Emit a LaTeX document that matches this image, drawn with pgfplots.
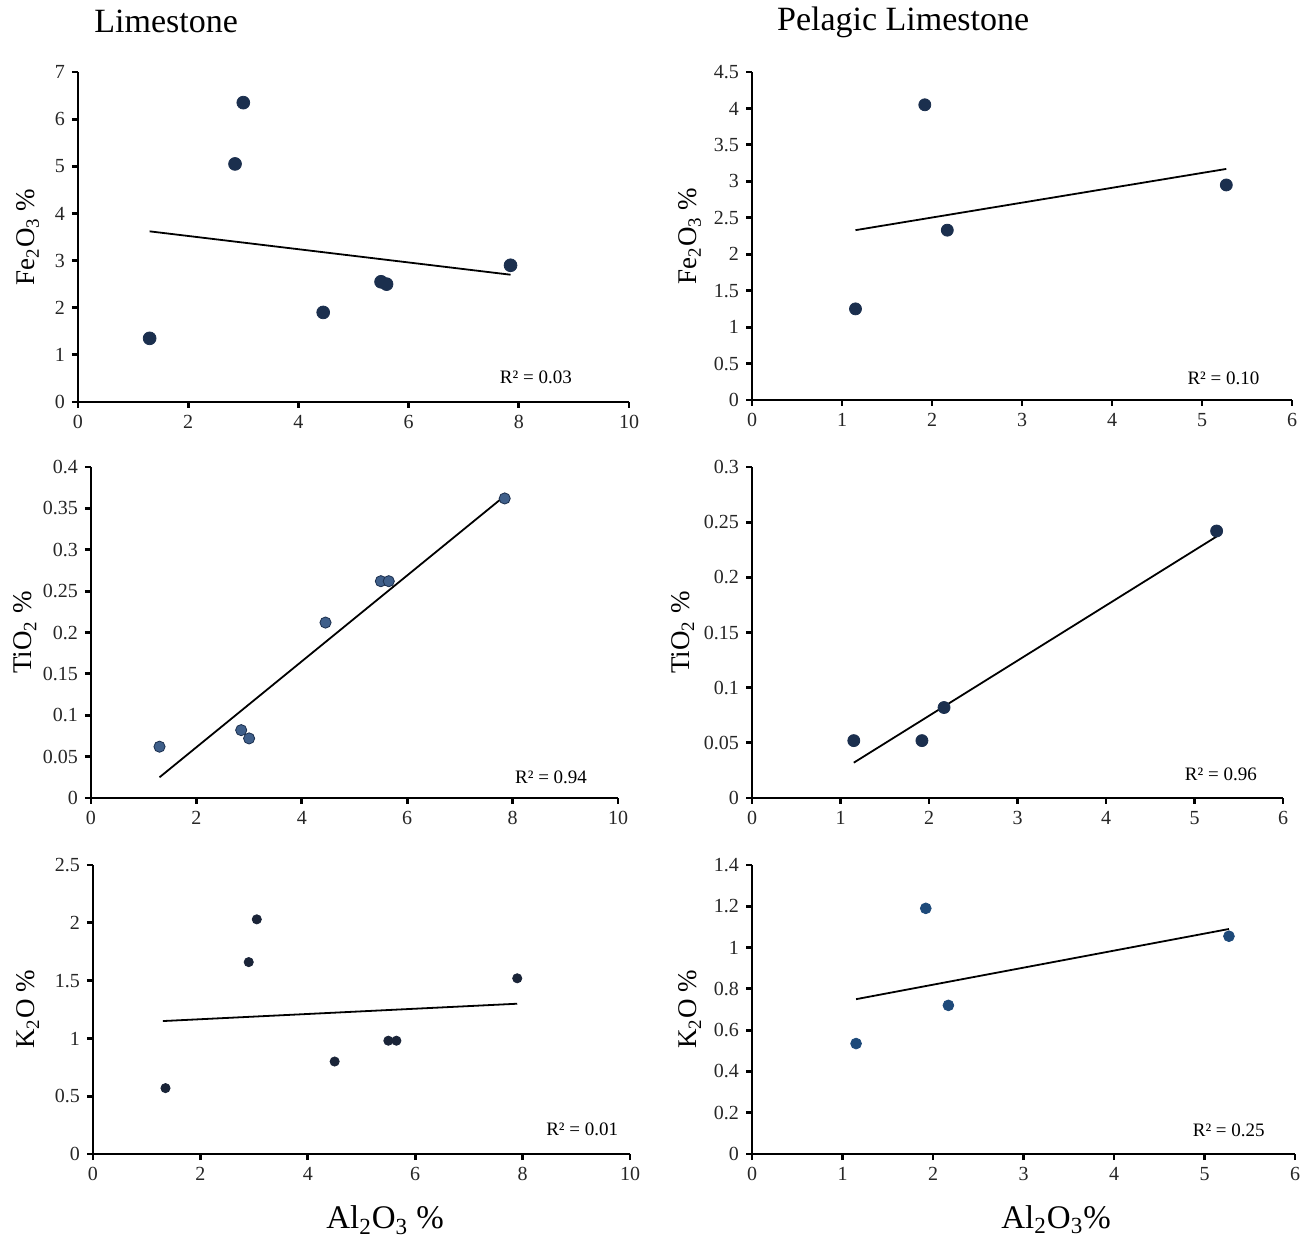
\documentclass[border=0pt]{standalone}
\usepackage{pgfplots}
\pgfplotsset{compat=1.18}
\usepackage{fontspec}
\setmainfont{Liberation Serif}

\definecolor{navy}{HTML}{1B2F4E}
\definecolor{slate}{HTML}{3F5F8A}
\definecolor{deep}{HTML}{1A2438}
\definecolor{ocean}{HTML}{1E4A7A}

\pgfplotsset{
  panel/.style={
    scale only axis,
    axis x line=bottom, axis y line=left,
    axis line style={-, line width=1.1pt},
    tick align=outside,
    major tick length=3pt,
    every tick/.style={black, line width=1.4pt},
    tick label style={font=\fontsize{10}{11}\selectfont, text=black!85},
    /pgf/number format/assume math mode=true,
    yticklabel style={/pgf/number format/fixed, /pgf/number format/precision=2},
    xmin=0, ymin=0,
    clip=false,
    ylabel style={anchor=center, font=\fontsize{13.5}{14}\selectfont},
  },
  fit/.style={black, line width=0.9pt, no marks},
}
\newcommand{\rsq}[3]{\node[font=\fontsize{9.5}{10}\selectfont, anchor=center] at (axis description cs:#1,#2) {R² = #3};}
\newcommand{\heading}[3]{\node[font=\fontsize{17}{18}\selectfont, anchor=center] at (axis description cs:#1,#2) {#3};}

\begin{document}
\begin{tikzpicture}
\useasboundingbox (0pt,0pt) rectangle (655.5pt,618.5pt);

% Limestone, Fe2O3
\begin{axis}[panel, at={(39pt,417.5pt)}, anchor=south west,
  width=275.5pt, height=165pt,
  xmax=10, ymax=7,
  xtick={0,2,4,6,8,10}, ytick={0,1,2,3,4,5,6,7},
  ylabel={Fe\textsubscript{2}O\textsubscript{3} \%},
  ylabel style={at={(axis description cs:-0.091,0.5)}},
]
\addplot[only marks, mark=*, mark size=3.2pt, draw=navy, fill=navy] coordinates {
  (1.3,1.35) (2.85,5.05) (3.0,6.35) (4.45,1.9) (5.5,2.55) (5.6,2.5) (7.85,2.9)
};
\addplot[fit] coordinates {(1.3,3.62) (7.85,2.7)};
\rsq{0.831}{0.076}{0.03}
\heading{0.16}{1.152}{Limestone}
\end{axis}

% Pelagic Limestone, Fe2O3
\begin{axis}[panel, at={(376pt,418.5pt)}, anchor=south west,
  width=270pt, height=164pt,
  xmax=6, ymax=4.5,
  xtick={0,1,2,3,4,5,6}, ytick={0,0.5,1,1.5,2,2.5,3,3.5,4,4.5},
  ylabel={Fe\textsubscript{2}O\textsubscript{3} \%},
  ylabel style={at={(axis description cs:-0.115,0.5)}},
]
\addplot[only marks, mark=*, mark size=3pt, draw=navy, fill=navy] coordinates {
  (1.15,1.25) (1.92,4.05) (2.17,2.33) (5.27,2.95)
};
\addplot[fit] coordinates {(1.15,2.33) (5.27,3.17)};
\rsq{0.873}{0.067}{0.10}
\heading{0.28}{1.152}{Pelagic Limestone}
\end{axis}

% Limestone, TiO2
\begin{axis}[panel, at={(45.5pt,219.5pt)}, anchor=south west,
  width=263.5pt, height=165.5pt,
  xmax=10, ymax=0.4,
  xtick={0,2,4,6,8,10}, ytick={0,0.05,0.1,0.15,0.2,0.25,0.3,0.35,0.4},
  ylabel={TiO\textsubscript{2} \%},
  ylabel style={at={(axis description cs:-0.125,0.5)}},
]
\addplot[only marks, mark=*, mark size=2.8pt, draw=navy, fill=slate] coordinates {
  (1.3,0.062) (2.85,0.082) (3.0,0.072) (4.45,0.212) (5.5,0.262) (5.65,0.262) (7.85,0.362)
};
\addplot[fit] coordinates {(1.3,0.025) (7.85,0.365)};
\rsq{0.873}{0.061}{0.94}
\end{axis}

% Pelagic Limestone, TiO2
\begin{axis}[panel, at={(376pt,219.5pt)}, anchor=south west,
  width=265.5pt, height=165.5pt,
  xmax=6, ymax=0.3,
  xtick={0,1,2,3,4,5,6}, ytick={0,0.05,0.1,0.15,0.2,0.25,0.3},
  ylabel={TiO\textsubscript{2} \%},
  ylabel style={at={(axis description cs:-0.13,0.5)}},
]
\addplot[only marks, mark=*, mark size=3pt, draw=navy, fill=navy] coordinates {
  (1.15,0.052) (1.92,0.052) (2.17,0.082) (5.25,0.242)
};
\addplot[fit] coordinates {(1.15,0.032) (5.25,0.237)};
\rsq{0.883}{0.073}{0.96}
\end{axis}

% Limestone, K2O
\begin{axis}[panel, at={(46.5pt,41.5pt)}, anchor=south west,
  width=268.5pt, height=144.5pt,
  xmax=10, ymax=2.5,
  xtick={0,2,4,6,8,10}, ytick={0,0.5,1,1.5,2,2.5},
  ylabel={K\textsubscript{2}O \%},
  ylabel style={at={(axis description cs:-0.121,0.5)}},
  xlabel={Al\textsubscript{2}O\textsubscript{3} \%},
  xlabel style={at={(axis description cs:0.544,-0.229)}, anchor=center, font=\fontsize{16.5}{17}\selectfont},
]
\addplot[only marks, mark=*, mark size=2.3pt, draw=deep, fill=deep] coordinates {
  (1.35,0.57) (2.9,1.66) (3.05,2.03) (4.5,0.8) (5.5,0.98) (5.65,0.98) (7.9,1.52)
};
\addplot[fit] coordinates {(1.3,1.15) (7.9,1.3)};
\rsq{0.911}{0.087}{0.01}
\end{axis}

% Pelagic Limestone, K2O
\begin{axis}[panel, at={(376pt,41.5pt)}, anchor=south west,
  width=271.5pt, height=144.5pt,
  xmax=6, ymax=1.4,
  xtick={0,1,2,3,4,5,6}, ytick={0,0.2,0.4,0.6,0.8,1,1.2,1.4},
  ylabel={K\textsubscript{2}O \%},
  ylabel style={at={(axis description cs:-0.114,0.5)}},
  xlabel={Al\textsubscript{2}O\textsubscript{3}\%},
  xlabel style={at={(axis description cs:0.56,-0.226)}, anchor=center, font=\fontsize{16.5}{17}\selectfont},
]
\addplot[only marks, mark=*, mark size=2.7pt, draw=ocean, fill=ocean] coordinates {
  (1.15,0.535) (1.92,1.19) (2.17,0.72) (5.27,1.055)
};
\addplot[fit] coordinates {(1.15,0.75) (5.27,1.09)};
\rsq{0.878}{0.083}{0.25}
\end{axis}
\end{tikzpicture}
\end{document}
